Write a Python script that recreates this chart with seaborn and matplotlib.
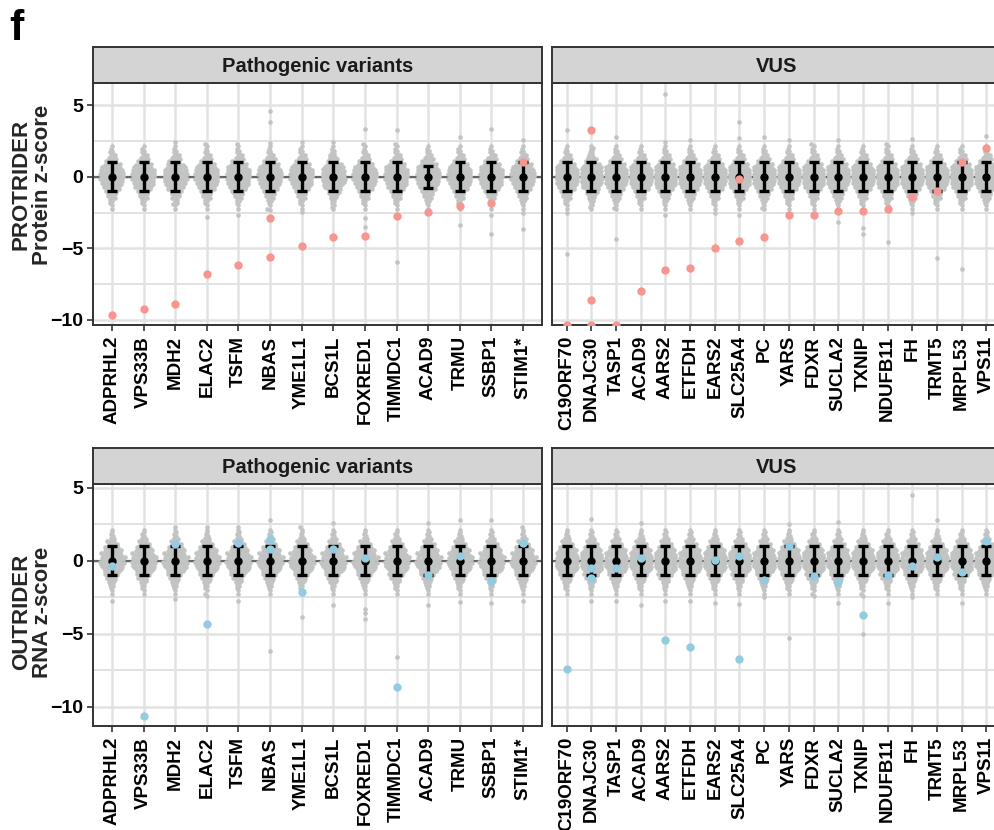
import numpy as np
import pandas as pd
import matplotlib
matplotlib.use("Agg")
import matplotlib.pyplot as plt
from matplotlib.ticker import MultipleLocator, FixedLocator
import seaborn as sns

# ---------------------------------------------------------------- genes
pathogenic_genes = ["ADPRHL2", "VPS33B", "MDH2", "ELAC2", "TSFM", "NBAS", "YME1L1",
                    "BCS1L", "FOXRED1", "TIMMDC1", "ACAD9", "TRMU", "SSBP1", "STIM1*"]
vus_genes = ["C19ORF70", "DNAJC30", "TASP1", "ACAD9", "AARS2", "ETFDH", "EARS2",
             "SLC25A4", "PC", "YARS", "FDXR", "SUCLA2", "TXNIP", "NDUFB11", "FH",
             "TRMT5", "MRPL53", "VPS11"]

# ------------------------------------------------- patient z-scores per gene
protein_patho_patient = [[-9.67], [-9.2], [-8.86], [-6.76], [-6.13], [-2.91, -5.59], [-4.82],
                         [-4.22], [-4.15], [-2.72], [-2.45], [-2.07], [-1.86], [1.03]]
protein_vus_patient = [[-10.35], [3.27, -8.58, -10.35], [-10.35], [-7.99], [-6.52], [-6.36],
                       [-4.99], [-4.5, -0.19], [-4.19], [-2.68], [-2.66], [-2.4], [-2.38],
                       [-2.24], [-1.44], [-1.02], [1.03], [1.98]]
rna_patho_patient = [[-0.36], [-10.64], [1.14], [-4.34], [1.23], [1.53, 0.8], [-2.1],
                     [0.8], [0.21], [-8.63], [-0.98], [0.32], [-1.39], [1.23]]
rna_vus_patient = [[-7.42], [-0.48, -1.14], [-0.48], [0.21], [-5.45], [-5.91], [0.05],
                   [0.32, -6.76], [-1.32], [1.0], [-1.03], [-1.48], [-3.74], [-1.0],
                   [-0.34], [0.27], [-0.73], [1.33]]

# ------------------------------------------ cohort z-scores (bulk of samples)
cohort_core = [-2.25, -1.98, -1.83, -1.71, -1.62, -1.53, -1.46, -1.39, -1.33, -1.27,
               -1.22, -1.17, -1.12, -1.08, -1.04, -1.0, -0.96, -0.92, -0.89, -0.86,
               -0.83, -0.8, -0.77, -0.74, -0.71, -0.68, -0.66, -0.63, -0.61, -0.58,
               -0.56, -0.53, -0.51, -0.49, -0.46, -0.44, -0.42, -0.4, -0.38, -0.36,
               -0.33, -0.31, -0.29, -0.27, -0.25, -0.23, -0.21, -0.19, -0.17, -0.15,
               -0.13, -0.11, -0.09, -0.07, -0.05, -0.03, -0.01,
               0.01, 0.03, 0.06, 0.08, 0.1, 0.12, 0.14, 0.16, 0.18, 0.2,
               0.22, 0.24, 0.26, 0.28, 0.3, 0.32, 0.35, 0.37, 0.39, 0.41,
               0.43, 0.45, 0.48, 0.5, 0.52, 0.55, 0.57, 0.6, 0.62, 0.65,
               0.67, 0.7, 0.73, 0.76, 0.79, 0.82, 0.85, 0.88, 0.91, 0.95,
               0.99, 1.03, 1.07, 1.11, 1.16, 1.21, 1.26, 1.32, 1.38, 1.45,
               1.52, 1.6, 1.7, 1.82, 1.96, 2.15]

# cohort samples in the tails, per gene
protein_patho_tail = [[], [], [2.45, -1.9], [2.3, -2.8], [2.3, -2.68], [4.6, 3.8, 2.35, -2.3],
                      [2.4, -2.45], [2.4, -2.1], [3.3, 2.3, -2.9, -3.5], [3.26, 2.3, -5.94],
                      [], [2.8, -3.4], [3.3, -2.68, -4.03], [2.57, -2.5, -3.68]]
protein_vus_tail = [[3.27, -2.56, -5.36], [2.0, -2.1], [2.8, -2.2, -4.38], [], [5.78, 2.45, -2.68],
                    [2.57], [-2.5], [3.85, 2.73, -2.68], [2.8, -2.2], [2.57], [2.26],
                    [2.57, -3.15], [-3.6, -4.0], [2.3, -4.54], [2.6, -2.5], [-5.66], [-6.45],
                    [2.87]]
rna_patho_tail = [[-2.76], [], [2.33, -2.64], [2.33, -2.4], [2.33, -2.76], [2.83, -6.16],
                  [2.3, -3.86], [2.6, -3.03], [-3.3, -3.6, -4.0], [-6.57], [2.6, -3.03],
                  [2.79, -2.8], [2.79, -2.9], [2.3, -2.76]]
rna_vus_tail = [[], [2.9, -2.75], [-2.75], [2.6, -3.03], [-2.75], [-2.75], [-2.9], [-2.97],
                [-2.5], [2.5, -5.3], [-2.4], [2.67, -2.9], [-2.4, -5.04], [-2.9], [4.5, -2.5],
                [2.83], [-2.9], []]

# cohort mean and standard deviation per gene
protein_patho_sd = [1, 1, 1, 1, 1, 1, 1, 1, 1, 1, 0.78, 1, 1, 1]
protein_vus_sd = [1] * 18
rna_patho_sd = [1] * 14
rna_vus_sd = [1] * 18
cohort_mean = 0.0

# ---------------------------------------------------------------- styling
W, H = 994, 830
GRAY_PT = "#C2C4C3"
PROTEIN_COL = "#F6968F"
RNA_COL = "#93CBE0"
GRID = "#E2E2E2"
EDGE = "#333333"
STRIP = "#D3D4D3"
SWARM_SPACING = 1.85  # marker size used to lay out the swarm
SWARM_DOT = 3.3       # marker size the cohort dots are drawn with

sns.set_theme(style="white")
plt.rcParams["font.family"] = ["Liberation Sans", "DejaVu Sans"]
plt.rcParams["font.weight"] = "bold"

fig = plt.figure(figsize=(W / 100, H / 100), dpi=100)
swarm_collections = []


def rect(x0, y0, x1, y1):
    return [x0 / W, 1 - y1 / H, (x1 - x0) / W, (y1 - y0) / H]


def long_table(genes, tails):
    rows = []
    for g, t in zip(genes, tails):
        for v in list(cohort_core) + list(t):
            rows.append((g, v))
    return pd.DataFrame(rows, columns=["gene", "z"])


def patient_table(genes, vals):
    rows = [(g, v) for g, vs in zip(genes, vals) for v in vs]
    return pd.DataFrame(rows, columns=["gene", "z"])


def panel(box, strip_box, genes, tails, patients, sds, color, ylim, title,
          ylabel=None, label_y=0.5):
    ax = fig.add_axes(rect(*box))
    n0 = len(ax.collections)
    sns.swarmplot(data=long_table(genes, tails), x="gene", y="z", order=genes,
                  color=GRAY_PT, size=SWARM_SPACING, linewidth=0, ax=ax,
                  warn_thresh=1, zorder=2)
    swarm_collections.extend(ax.collections[n0:])
    pos = np.arange(len(genes))
    ax.errorbar(pos, [cohort_mean] * len(genes), yerr=sds, fmt="o", color="black",
                ms=5, elinewidth=2.4, capsize=3.3, capthick=2.4, zorder=4)
    sns.stripplot(data=patient_table(genes, patients), x="gene", y="z", order=genes,
                  jitter=False, color=color, size=6.0, linewidth=0, ax=ax, zorder=5)
    ax.axhline(0, color="#666666", lw=1.6, zorder=1)

    ax.set_xlim(-0.6, len(genes) - 0.4)
    ax.set_ylim(*ylim)
    ax.yaxis.set_major_locator(FixedLocator([-10, -5, 0, 5]))
    ax.yaxis.set_minor_locator(MultipleLocator(2.5))
    ax.set_axisbelow(True)
    ax.grid(True, which="major", axis="both", color=GRID, lw=1.8)
    ax.grid(True, which="minor", axis="y", color=GRID, lw=1.4)
    ax.tick_params(axis="both", which="major", length=4, width=1.2, color=EDGE,
                   labelcolor="black", left=True, bottom=True)
    ax.tick_params(axis="y", which="major", labelsize=14, pad=3)
    ax.tick_params(axis="x", which="major", labelsize=13.5, labelrotation=90, pad=4)
    ax.tick_params(axis="y", which="minor", length=0)
    for lab in ax.get_xticklabels() + ax.get_yticklabels():
        lab.set_fontweight("bold")
    ax.set_xlabel("")
    if ylabel:
        ax.set_ylabel(ylabel, fontsize=16, fontweight="bold", linespacing=1.02)
        ax.yaxis.set_label_coords(-0.089, label_y)
    else:
        ax.set_ylabel("")
        ax.set_yticklabels([])
        ax.tick_params(axis="y", length=0)
    for s in ax.spines.values():
        s.set_color(EDGE)
        s.set_linewidth(1.4)
        s.set_visible(True)

    sax = fig.add_axes(rect(*strip_box))
    sax.set_facecolor(STRIP)
    sax.set_xticks([])
    sax.set_yticks([])
    for s in sax.spines.values():
        s.set_color(EDGE)
        s.set_linewidth(1.4)
    sax.text(0.5, 0.45, title, ha="center", va="center", fontsize=14.5,
             fontweight="bold", color="#1A1A1A", transform=sax.transAxes)
    return ax


top_lim = (-10.35, 6.54)
bot_lim = (-11.32, 5.27)

panel((93, 83, 542, 325), (93, 47, 542, 83), pathogenic_genes, protein_patho_tail,
      protein_patho_patient, protein_patho_sd, PROTEIN_COL, top_lim,
      "Pathogenic variants", "PROTRIDER\nProtein z-score", label_y=0.58)
panel((552, 83, 1001, 325), (552, 47, 1001, 83), vus_genes, protein_vus_tail,
      protein_vus_patient, protein_vus_sd, PROTEIN_COL, top_lim, "VUS")
panel((93, 484, 542, 726), (93, 448, 542, 484), pathogenic_genes, rna_patho_tail,
      rna_patho_patient, rna_patho_sd, RNA_COL, bot_lim,
      "Pathogenic variants", "OUTRIDER\nRNA z-score", label_y=0.47)
panel((552, 484, 1001, 726), (552, 448, 1001, 484), vus_genes, rna_vus_tail,
      rna_vus_patient, rna_vus_sd, RNA_COL, bot_lim, "VUS")

fig.text(9 / W, 1 - 40 / H, "f", fontsize=31, fontweight="bold", ha="left",
         va="baseline", color="black")

# lay the swarms out with tight spacing, then draw the dots a little larger so
# the dense core reads as a filled shape
fig.canvas.draw()
for coll in swarm_collections:
    if "draw" in coll.__dict__:
        del coll.draw
    coll.set_sizes([SWARM_DOT ** 2])

fig.savefig("out.png", dpi=100)
